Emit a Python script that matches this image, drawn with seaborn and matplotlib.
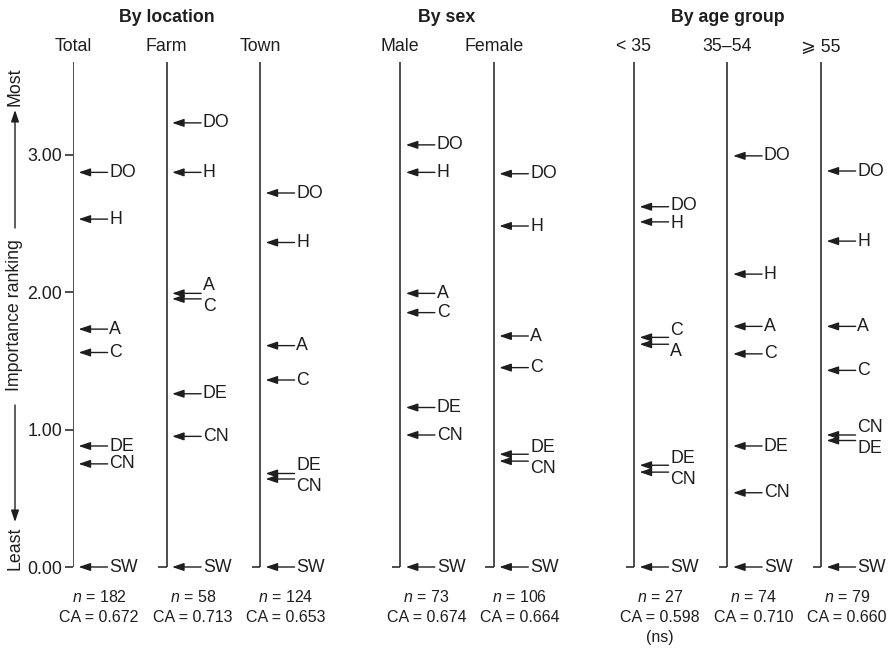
import numpy as np
import pandas as pd
import seaborn as sns
import matplotlib.pyplot as plt

# columns, grouped by header
group_names = ["By location", "By sex", "By age group"]
group_sizes = [3, 2, 3]
columns = ["Total", "Farm", "Town", "Male", "Female", "< 35", "35\u201354", "\u2A7E 55"]
factors = ["DO", "H", "A", "C", "DE", "CN", "SW"]

# mean importance ranking per factor (same order as factors)
total = [2.87, 2.53, 1.73, 1.56, 0.88, 0.75, 0.00]
farm = [3.23, 2.87, 1.99, 1.95, 1.26, 0.95, 0.00]
town = [2.72, 2.36, 1.61, 1.36, 0.68, 0.64, 0.00]
male = [3.07, 2.87, 1.99, 1.85, 1.16, 0.96, 0.00]
female = [2.86, 2.48, 1.68, 1.45, 0.82, 0.77, 0.00]
under35 = [2.62, 2.51, 1.62, 1.67, 0.74, 0.69, 0.00]
age35_54 = [2.99, 2.13, 1.75, 1.55, 0.88, 0.54, 0.00]
over55 = [2.88, 2.37, 1.75, 1.43, 0.92, 0.96, 0.00]

n_sizes = [182, 58, 124, 73, 106, 27, 74, 79]
ca_values = ["0.672", "0.713", "0.653", "0.674", "0.664", "0.598", "0.710", "0.660"]
ca_notes = ["", "", "", "", "", "(ns)", "", ""]

series = [total, farm, town, male, female, under35, age35_54, over55]

sns.set_theme(style="white")
plt.rcParams["font.family"] = ["Liberation Sans", "DejaVu Sans"]
plt.rcParams["mathtext.fontset"] = "custom"
plt.rcParams["mathtext.it"] = "Liberation Sans:italic"
plt.rcParams["mathtext.rm"] = "Liberation Sans"

ink = "#1e1e1e"
fs = 12.8

# x position of each column: unit spacing, extra half gap between groups
positions = []
x = 0.0
for size in group_sizes:
    for _ in range(size):
        positions.append(x)
        x += 1
    x += 0.5

df = pd.DataFrame(
    [(columns[i], positions[i], f, v) for i, s in enumerate(series) for f, v in zip(factors, s)],
    columns=["column", "x", "factor", "value"],
)

fig = plt.figure(figsize=(8.9, 6.49), dpi=100)
ax = fig.add_axes([73 / 890, 0, 817 / 890, 1])
ax.set_xlim(0, 817 / 93.5)
ax.set_ylim(-82 / 137.5, 567 / 137.5)

top = 3.67
ax.vlines(positions, 0, top, color=ink, lw=1.1)
for p in positions:
    ax.hlines(0, p - 0.09, p, color=ink, lw=1.1)

arrow_kw = dict(arrowstyle="-|>,head_length=0.5,head_width=0.17", color=ink, lw=1.0,
                mutation_scale=14, shrinkA=0, shrinkB=0)

# arrows pointing at each factor's ranking
for col, sub in df.groupby("column", sort=False):
    sub = sub.sort_values("value", ascending=False).reset_index(drop=True)
    label_y = sub["value"].tolist()
    for k in range(len(sub) - 1):
        a, b = sub.loc[k, "value"], sub.loc[k + 1, "value"]
        mid = (a + b) / 2
        if 0 < a - b < 0.1:
            label_y[k] = mid + 0.075
            label_y[k + 1] = mid - 0.075
        elif 0 < a - b < 0.13:
            label_y[k] = mid + 0.065
            label_y[k + 1] = mid - 0.065
    for k, row in sub.iterrows():
        p, v = row["x"], row["value"]
        ax.annotate("", xy=(p + 0.06, v), xytext=(p + 0.37, v), arrowprops=arrow_kw)
        ax.text(p + 0.39, label_y[k], row["factor"], ha="left", va="center",
                fontsize=fs, color=ink)

# headers
start = 0
for name, size in zip(group_names, group_sizes):
    center = np.mean(positions[start:start + size])
    ax.text(center, 3.993, name, ha="center", va="center", fontsize=fs,
            fontweight="bold", color=ink)
    start += size
for p, c in zip(positions, columns):
    ax.text(p, 3.782, c, ha="center", va="center", fontsize=fs, color=ink)

# sample sizes and CA values
for p, n, ca, note in zip(positions, n_sizes, ca_values, ca_notes):
    ax.text(p + 0.28, -0.218, f"$n$ = {n}", ha="center", va="center", fontsize=11.5, color=ink)
    ax.text(p + 0.28, -0.364, f"CA = {ca}", ha="center", va="center", fontsize=11.5, color=ink)
    if note:
        ax.text(p + 0.28, -0.516, note, ha="center", va="center", fontsize=11.5, color=ink)

ax.set_yticks([0, 1, 2, 3])
ax.set_yticklabels(["0.00", "1.00", "2.00", "3.00"])
ax.set_xticks([])
ax.tick_params(axis="y", left=True, length=6, width=1.1, color=ink, labelsize=fs,
               labelcolor=ink, pad=2)
sns.despine(ax=ax, left=True, bottom=True)

# y-axis label: Least <- Importance ranking -> Most
fig.text(15 / 890, 1 - 87 / 649, "Most", rotation=90, ha="center", va="center",
         fontsize=fs, color=ink)
fig.text(15 / 890, 1 - 315 / 649, "Importance ranking", rotation=90, ha="center",
         va="center", fontsize=fs, color=ink)
fig.text(15 / 890, 1 - 548 / 649, "Least", rotation=90, ha="center", va="center",
         fontsize=fs, color=ink)
ax.annotate("", xy=(15, 649 - 110), xytext=(15, 649 - 228), xycoords="figure pixels",
            textcoords="figure pixels", arrowprops=arrow_kw)
ax.annotate("", xy=(15, 649 - 522), xytext=(15, 649 - 405), xycoords="figure pixels",
            textcoords="figure pixels", arrowprops=arrow_kw)

fig.savefig("out.png", dpi=100)
